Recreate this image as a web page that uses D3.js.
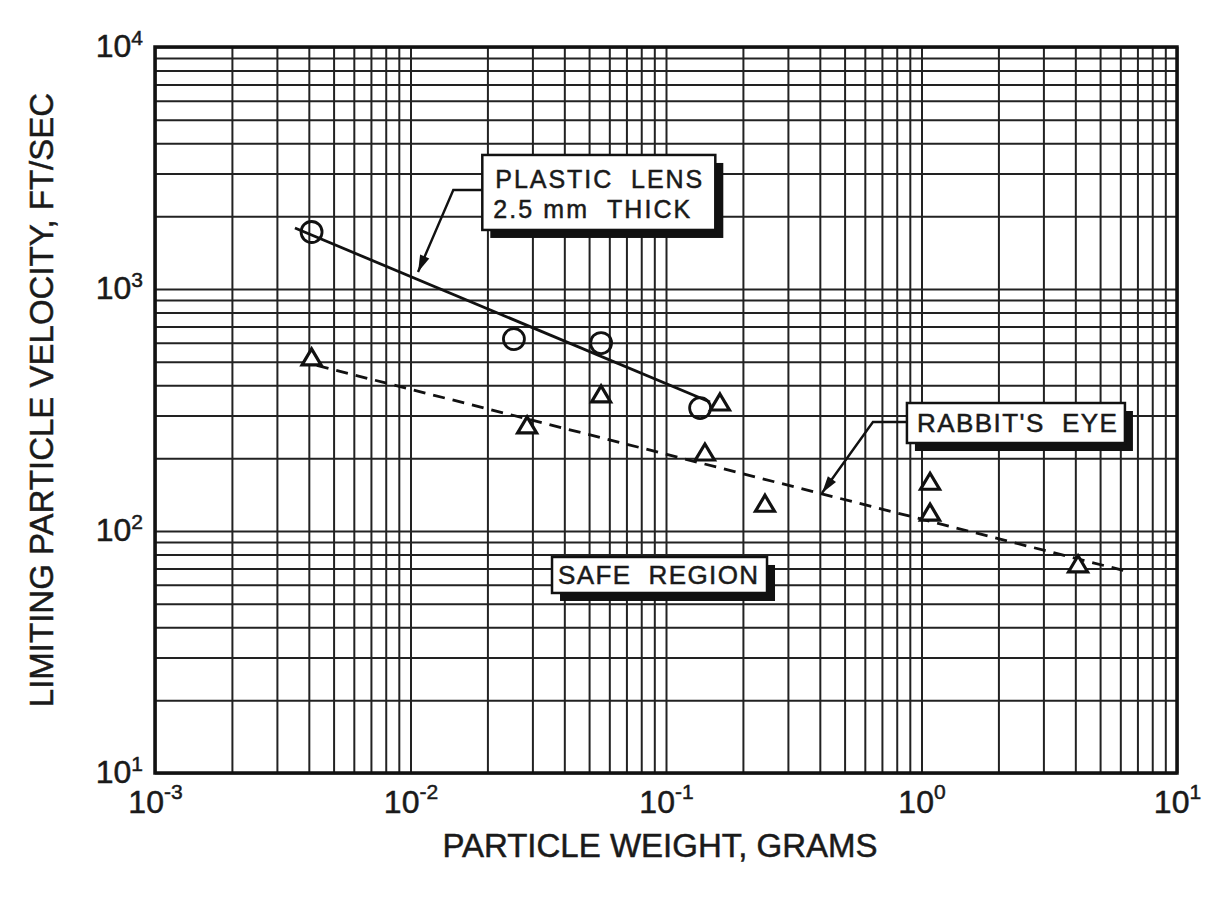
<!DOCTYPE html>
<html>
<head>
<script src="https://d3js.org/d3.v7.min.js"></script>
<style>
  body { margin: 0; background: #fff; }
  svg { font-family: "Liberation Sans", Arial, Helvetica, sans-serif; }
  .grid line { stroke: #222; stroke-width: 2; }
  .grid path { display: none; }
  .ticks path, .ticks line { display: none; }
  .label { fill: #1a1a1a; stroke: #1a1a1a; stroke-width: 0.5; }
</style>
</head>
<body>
<script>
// decades on each axis and their exponents
var xDecades = [1e-3, 1e-2, 1e-1, 1, 10];
var xExponents = ["-3", "-2", "-1", "0", "1"];
var yDecades = [10, 100, 1000, 10000];
var yExponents = ["1", "2", "3", "4"];

// plastic lens 2.5 mm thick (circles)
var lensWeight = [0.0041, 0.0254, 0.0557, 0.136];
var lensVelocity = [1720, 621, 598, 322];

// rabbit's eye (triangles)
var eyeWeight = [0.0041, 0.0286, 0.0557, 0.1626, 0.142, 0.244, 1.08, 1.08, 4.1];
var eyeVelocity = [519, 272, 365, 338, 210, 129, 159, 118.6, 72.5];

// drawn-in limit lines (weight, velocity)
var lensLine = [[0.00353, 1786], [0.1486, 341]];
var eyeLine = [[0.0043, 483], [6.27, 68.4]];

var margin = {top: 47, left: 155};
var w = 1022, h = 726;

var svg = d3.select("body").append("svg")
    .attr("width", 1221)
    .attr("height", 901);

var g = svg.append("g")
    .attr("transform", "translate(" + margin.left + "," + margin.top + ")");

var x = d3.scaleLog().domain([1e-3, 10]).range([0, w]);
var y = d3.scaleLog().domain([10, 1e4]).range([h, 0]);

// minor grid values 1..9 in every decade
function minors(decades) {
  var out = [];
  decades.slice(0, -1).forEach(function (d) {
    for (var k = 1; k < 10; k++) out.push(d * k);
  });
  out.push(decades[decades.length - 1]);
  return out;
}

g.append("g")
    .attr("class", "grid")
    .attr("transform", "translate(0," + h + ")")
    .call(d3.axisBottom(x).tickValues(minors(xDecades)).tickSize(-h).tickFormat(""));

g.append("g")
    .attr("class", "grid")
    .call(d3.axisLeft(y).tickValues(minors(yDecades)).tickSize(-w).tickFormat(""));

// frame
g.append("rect")
    .attr("width", w)
    .attr("height", h)
    .attr("fill", "none")
    .attr("stroke", "#111")
    .attr("stroke-width", 3.5);

// x tick labels with superscripts
var xt = g.append("g")
    .attr("class", "ticks")
    .attr("transform", "translate(0," + h + ")")
    .call(d3.axisBottom(x).tickValues(xDecades).tickSize(0).tickFormat(""));

xt.selectAll(".tick").append("text")
    .attr("class", "label")
    .attr("y", 40)
    .attr("text-anchor", "middle")
    .attr("font-family", "Liberation Sans, Arial, sans-serif")
    .each(function (d, i) {
      var t = d3.select(this);
      t.append("tspan").attr("font-size", 32).text("10");
      t.append("tspan").attr("font-size", 21).attr("dy", -14).text(xExponents[i]);
    });

// y tick labels with superscripts
var yt = g.append("g")
    .attr("class", "ticks")
    .call(d3.axisLeft(y).tickValues(yDecades).tickSize(0).tickFormat(""));

yt.selectAll(".tick").append("text")
    .attr("class", "label")
    .attr("x", -12)
    .attr("y", 9)
    .attr("text-anchor", "end")
    .attr("font-family", "Liberation Sans, Arial, sans-serif")
    .each(function (d, i) {
      var t = d3.select(this);
      t.append("tspan").attr("font-size", 32).text("10");
      t.append("tspan").attr("font-size", 21).attr("dy", -12).text(yExponents[i]);
    });

// axis titles
svg.append("text")
    .attr("class", "label")
    .attr("x", 660)
    .attr("y", 857)
    .attr("text-anchor", "middle")
    .attr("font-size", 33)
    .text("PARTICLE WEIGHT, GRAMS");

svg.append("text")
    .attr("class", "label")
    .attr("transform", "translate(53,400) rotate(-90)")
    .attr("text-anchor", "middle")
    .attr("font-size", 33)
    .text("LIMITING PARTICLE VELOCITY, FT/SEC");

// limit lines
var line = d3.line()
    .x(function (d) { return x(d[0]); })
    .y(function (d) { return y(d[1]); });

g.append("path")
    .attr("d", line(lensLine))
    .attr("fill", "none")
    .attr("stroke", "#111")
    .attr("stroke-width", 2.8);

g.append("path")
    .attr("d", line(eyeLine))
    .attr("fill", "none")
    .attr("stroke", "#111")
    .attr("stroke-width", 2.8)
    .attr("stroke-dasharray", "12,8");

// markers
g.selectAll(".lens")
    .data(lensWeight)
  .enter().append("circle")
    .attr("class", "lens")
    .attr("cx", function (d) { return x(d); })
    .attr("cy", function (d, i) { return y(lensVelocity[i]); })
    .attr("r", 10.5)
    .attr("fill", "none")
    .attr("stroke", "#111")
    .attr("stroke-width", 2.8);

g.selectAll(".eye")
    .data(eyeWeight)
  .enter().append("path")
    .attr("class", "eye")
    .attr("transform", function (d, i) {
      return "translate(" + x(d) + "," + y(eyeVelocity[i]) + ")";
    })
    .attr("d", "M0,-9L9.5,7L-9.5,7Z")
    .attr("fill", "#fff")
    .attr("stroke", "#111")
    .attr("stroke-width", 3.2)
    .attr("stroke-linejoin", "miter");

// callout boxes with drop shadows
function box(px, py, bw, bh) {
  g.append("rect")
      .attr("x", px + 8).attr("y", py + 8)
      .attr("width", bw).attr("height", bh)
      .attr("fill", "#111");
  g.append("rect")
      .attr("x", px).attr("y", py)
      .attr("width", bw).attr("height", bh)
      .attr("fill", "#fff")
      .attr("stroke", "#111")
      .attr("stroke-width", 2.5);
}

function boxText(px, py, str, size, len) {
  g.append("text")
      .attr("class", "label")
      .attr("x", px).attr("y", py)
      .attr("font-size", size)
      .attr("textLength", len)
      .attr("lengthAdjust", "spacing")
      .text(str);
}

function leader(pts) {
  g.append("path")
      .attr("d", d3.line()(pts))
      .attr("fill", "none")
      .attr("stroke", "#111")
      .attr("stroke-width", 2.4);
  var a = pts[pts.length - 2], b = pts[pts.length - 1];
  var ang = Math.atan2(b[1] - a[1], b[0] - a[0]);
  var L = 17, hw = 5;
  var bx = b[0] - L * Math.cos(ang), by = b[1] - L * Math.sin(ang);
  var nx = -Math.sin(ang) * hw, ny = Math.cos(ang) * hw;
  g.append("path")
      .attr("d", "M" + b[0] + "," + b[1] + "L" + (bx + nx) + "," + (by + ny) + "L" + (bx - nx) + "," + (by - ny) + "Z")
      .attr("fill", "#111");
}

// plastic lens callout
var lx = x(0.0191), ly = y(3580);
leader([[lx, ly + 35], [lx - 29, ly + 35], [x(0.0107), y(1175)]]);
box(lx, ly, 233, 75);
boxText(lx + 13, ly + 33, "PLASTIC\u00a0\u00a0LENS", 25, 207);
boxText(lx + 11, ly + 63, "2.5\u00a0mm\u00a0\u00a0THICK", 25, 197);

// rabbit's eye callout
var rx = x(0.877), ry = y(338);
leader([[rx, ry + 19], [rx - 34, ry + 19], [x(0.408), y(143.6)]]);
box(rx, ry, 218, 40);
boxText(rx + 10, ry + 29, "RABBIT'S\u00a0\u00a0EYE", 26, 200);

// safe region label
var sx = x(0.0358), sy = y(78.1);
box(sx, sy, 215, 36);
boxText(sx + 6, sy + 27, "SAFE\u00a0\u00a0REGION", 26, 200);
</script>
</body>
</html>
